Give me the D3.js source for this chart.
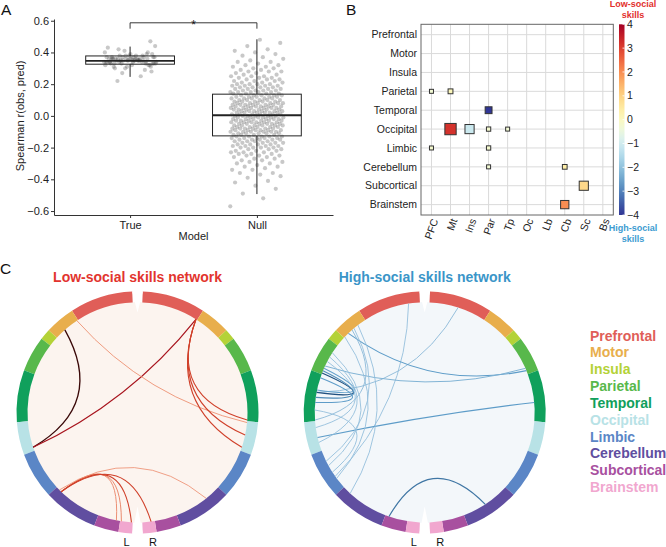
<!DOCTYPE html>
<html><head><meta charset="utf-8">
<script src="https://cdn.jsdelivr.net/npm/d3@7"></script>
<style>
body{margin:0;background:#fff;}
svg{display:block;font-family:"Liberation Sans",Arial,Helvetica,sans-serif;}
</style></head><body>
<svg id="chart" width="666" height="547"></svg>
<script>
// ================= DATA =================
// Panel A
const modelCategories = ["True", "Null"];
const trueValues = [0.35,0.33,0.37,0.36,0.34,0.38,0.32,0.35,0.36,0.31,0.39,0.34,0.35,0.37,0.33,0.36,0.30,0.40,0.35,0.34,0.36,0.38,0.33,0.35,0.37,0.29,0.41,0.34,0.36,0.35,0.32,0.38,0.36,0.34,0.33,0.37,0.35,0.31,0.39,0.36,0.34,0.35,0.42,0.28,0.36,0.33,0.37,0.35,0.34,0.38,0.36,0.32,0.35,0.43,0.25,0.35,0.37,0.34,0.36,0.33,0.30,0.40,0.35,0.22,0.47,0.36,0.34,0.38,0.27,0.44,0.35,0.33,0.36,0.31,0.37,0.35,0.34,0.39,0.32,0.36];
const nullValues = [-0.57,-0.52,-0.49,-0.46,-0.44,-0.42,-0.41,-0.39,-0.38,-0.37,-0.36,-0.36,
-0.34,-0.34,-0.33,-0.32,-0.32,-0.31,-0.30,
-0.30,-0.29,-0.29,-0.28,-0.28,-0.27,-0.27,-0.26,-0.26,-0.25,-0.25,
-0.25,-0.24,-0.24,-0.24,-0.23,-0.23,-0.23,-0.22,-0.22,-0.22,-0.21,-0.21,-0.21,-0.20,-0.20,
-0.20,-0.20,-0.19,-0.19,-0.19,-0.19,-0.18,-0.18,-0.18,-0.18,-0.17,-0.17,-0.17,-0.17,-0.16,-0.16,-0.16,-0.16,-0.15,-0.15,
-0.15,-0.15,-0.15,-0.14,-0.14,-0.14,-0.14,-0.14,-0.13,-0.13,-0.13,-0.13,-0.13,-0.12,-0.12,-0.12,-0.12,-0.11,-0.11,-0.11,-0.11,-0.11,-0.10,-0.10,
-0.10,-0.10,-0.10,-0.10,-0.09,-0.09,-0.09,-0.09,-0.09,-0.09,-0.08,-0.08,-0.08,-0.08,-0.08,-0.08,-0.07,-0.07,-0.07,-0.07,-0.07,-0.06,-0.06,-0.06,-0.06,-0.06,-0.06,-0.05,-0.05,
-0.05,-0.05,-0.05,-0.05,-0.04,-0.04,-0.04,-0.04,-0.04,-0.04,-0.03,-0.03,-0.03,-0.03,-0.03,-0.03,-0.02,-0.02,-0.02,-0.02,-0.02,-0.02,-0.01,-0.01,-0.01,-0.01,-0.01,-0.01,0.00,0.00,
0.00,0.00,0.00,0.00,0.01,0.01,0.01,0.01,0.01,0.01,0.02,0.02,0.02,0.02,0.02,0.02,0.03,0.03,0.03,0.03,0.03,0.03,0.04,0.04,0.04,0.04,0.04,0.04,0.05,0.05,
0.05,0.05,0.05,0.05,0.06,0.06,0.06,0.06,0.06,0.06,0.07,0.07,0.07,0.07,0.07,0.07,0.08,0.08,0.08,0.08,0.08,0.08,0.09,0.09,0.09,0.09,0.09,0.10,0.10,
0.10,0.10,0.10,0.11,0.11,0.11,0.11,0.11,0.12,0.12,0.12,0.12,0.12,0.13,0.13,0.13,0.13,0.13,0.14,0.14,0.14,0.14,0.15,0.15,0.15,
0.15,0.15,0.16,0.16,0.16,0.16,0.17,0.17,0.17,0.17,0.18,0.18,0.18,0.18,0.19,0.19,0.19,0.19,0.20,0.20,0.20,
0.20,0.21,0.21,0.21,0.22,0.22,0.22,0.23,0.23,0.23,0.24,0.24,0.24,0.25,0.25,0.25,
0.26,0.26,0.27,0.27,0.28,0.28,0.28,0.29,0.29,0.30,0.30,
0.31,0.31,0.32,0.32,0.33,0.34,0.34,0.35,
0.36,0.37,0.38,0.39,0.40,0.41,0.42,0.44,0.46,0.48];
// box stats: [lowWhisker, q1, median, q3, highWhisker]
const trueBoxStats = [0.246, 0.326, 0.347, 0.378, 0.437];
const nullBoxStats = [-0.493, -0.126, 0.004, 0.137, 0.483];
const yTicksA = [-0.6, -0.4, -0.2, 0.0, 0.2, 0.4, 0.6];

// Panel B
const regionRows = ["Prefrontal","Motor","Insula","Parietal","Temporal","Occipital","Limbic","Cerebellum","Subcortical","Brainstem"];
const regionCols = ["PFC","Mt","Ins","Par","Tp","Oc","Lb","Cb","Sc","Bs"];
const cellRow    = ["Parietal","Parietal","Temporal","Occipital","Occipital","Occipital","Occipital","Limbic","Limbic","Cerebellum","Cerebellum","Subcortical","Brainstem"];
const cellCol    = ["PFC","Mt","Par","Mt","Ins","Par","Tp","PFC","Par","Par","Cb","Sc","Cb"];
const cellValue  = [-0.3,0.1,-4.0,3.2,-1.1,-0.2,-0.3,-0.2,-0.2,-0.3,0.4,0.9,2.0];
const cellWeight = [1.0,1.6,3.0,6.1,4.6,1.2,1.0,1.0,1.2,1.0,1.5,4.6,4.0];
const colorbarTicks = [-4,-3,-2,-1,0,1,2,3,4];

// Panel C
const hemiRegions = ["Prefrontal","Motor","Insula","Parietal","Temporal","Occipital","Limbic","Cerebellum","Subcortical","Brainstem"];
const regionColors = ["#e05e58","#e8ae4c","#b4d237","#58b84b","#10a05c","#b8e2e6","#5b86c6","#604ea0","#a8509f","#f1a7cf"];
const nodesPerRegion = [23,11,4,13,19,12,17,20,9,5];
// edges: [hemiA, regionA, nodeA, hemiB, regionB, nodeB, strength]
const lowEdges = [
  ["L","Motor",6,"L","Occipital",10,1.0],
  ["L","Occipital",10,"R","Prefrontal",22,0.8],
  ["L","Motor",0,"R","Occipital",0,0.12],
  ["R","Prefrontal",22,"R","Temporal",18,0.55],
  ["R","Prefrontal",22,"R","Occipital",5,0.55],
  ["R","Prefrontal",22,"R","Occipital",10,0.55],
  ["L","Cerebellum",2,"L","Subcortical",7,0.18],
  ["L","Cerebellum",2,"L","Brainstem",0,0.2],
  ["L","Cerebellum",2,"L","Brainstem",4,0.55],
  ["L","Cerebellum",2,"R","Brainstem",1,0.55],
  ["L","Cerebellum",1,"R","Cerebellum",6,0.1]
];
const highEdges = [
  ["L","Prefrontal",4,"L","Limbic",11,0.15],
  ["R","Prefrontal",11,"L","Temporal",7,0.2],
  ["L","Motor",8,"R","Parietal",11,0.5],
  ["L","Parietal",9,"R","Parietal",10,0.3],
  ["L","Occipital",6,"R","Temporal",11,0.5],
  ["L","Parietal",12,"L","Temporal",7,1.0],
  ["L","Parietal",11,"L","Temporal",9,0.6],
  ["L","Temporal",1,"L","Temporal",11,0.5],
  ["L","Parietal",10,"L","Temporal",6,0.45],
  ["L","Parietal",5,"L","Occipital",8,0.15],
  ["L","Parietal",3,"L","Limbic",6,0.15],
  ["L","Motor",10,"L","Limbic",12,0.15],
  ["L","Parietal",7,"L","Occipital",2,0.15],
  ["L","Motor",5,"L","Limbic",4,0.15],
  ["L","Temporal",18,"L","Motor",6,0.2],
  ["L","Subcortical",1,"R","Cerebellum",10,0.75],
  ["L","Temporal",14,"L","Limbic",9,0.15],
  ["L","Motor",3,"L","Cerebellum",3,0.15]
];
const legendLabels = hemiRegions;

// ================= DRAW =================
const svg = d3.select("#chart");
const txt = (g, x, y, s, size, opts = {}) => {
  const t = g.append("text").attr("x", x).attr("y", y).text(s).attr("font-size", size);
  Object.entries(opts).forEach(([k, v]) => t.attr(k, v));
  return t;
};

// Panel labels
txt(svg, 1, 15, "A", 15.5, {fill: "#111"});
txt(svg, 346, 15, "B", 15.5, {fill: "#111"});
txt(svg, 0, 274, "C", 15.5, {fill: "#111"});

// ---------- Panel A ----------
const gA = svg.append("g");
const xA = d3.scaleLinear().domain([0.4, 2.6]).range([54, 333]);
const yA = d3.scaleLinear().domain([-0.625, 0.611]).range([215, 19]);
const catPos = {True: 1, Null: 2};
const golden = 0.6180339887;
const jit = (i) => (((i * golden) % 1) - 0.5) * 0.42;

const pts = [];
trueValues.forEach((v, i) => pts.push({u: catPos.True + jit(i + 7), v}));
nullValues.forEach((v, i) => pts.push({u: catPos.Null + jit(i), v}));
gA.append("g").selectAll("circle").data(pts).join("circle")
  .attr("cx", d => xA(d.u)).attr("cy", d => yA(d.v)).attr("r", 2.1)
  .attr("fill", "#4a4a4a").attr("fill-opacity", 0.3);

function drawBox(u, s) {
  const hw = 0.35;
  const g = gA.append("g").attr("stroke", "#222").attr("fill", "none");
  g.append("line").attr("x1", xA(u)).attr("x2", xA(u)).attr("y1", yA(s[4])).attr("y2", yA(s[3])).attr("stroke-width", 1);
  g.append("line").attr("x1", xA(u)).attr("x2", xA(u)).attr("y1", yA(s[1])).attr("y2", yA(s[0])).attr("stroke-width", 1);
  g.append("rect").attr("x", xA(u - hw)).attr("width", xA(u + hw) - xA(u - hw))
    .attr("y", yA(s[3])).attr("height", yA(s[1]) - yA(s[3])).attr("stroke-width", 1);
  g.append("line").attr("x1", xA(u - hw)).attr("x2", xA(u + hw)).attr("y1", yA(s[2])).attr("y2", yA(s[2])).attr("stroke-width", 1.8);
}
drawBox(catPos.True, trueBoxStats);
drawBox(catPos.Null, nullBoxStats);

const axL = gA.append("g").attr("transform", "translate(54,0)")
  .call(d3.axisLeft(yA).tickValues(yTicksA).tickSize(3).tickSizeOuter(0).tickFormat(d3.format(".1f")));
const axB = gA.append("g").attr("transform", "translate(0,215)")
  .call(d3.axisBottom(xA).tickValues([1, 2]).tickSize(3).tickSizeOuter(0).tickFormat(d => modelCategories[d - 1]));
[axL, axB].forEach(a => {
  a.select(".domain").attr("stroke", "#333");
  a.selectAll(".tick line").attr("stroke", "#333");
  a.selectAll("text").attr("font-size", 11).attr("fill", "#222").attr("font-family", '"Liberation Sans", Arial, sans-serif');
});
axL.selectAll("text").attr("x", -5);
axB.selectAll("text").attr("y", 6);
// axis titles
txt(gA, 193.5, 240, "Model", 11, {"text-anchor": "middle", fill: "#222"});
txt(gA, 0, 0, "Spearman r(obs, pred)", 11, {"text-anchor": "middle", fill: "#222",
  transform: `translate(23.5,${yA(0)}) rotate(-90)`});
// significance bracket
gA.append("path").attr("fill", "none").attr("stroke", "#222").attr("stroke-width", 0.9)
  .attr("d", `M${xA(1)},${yA(0.55)}V${yA(0.587)}H${xA(2)}V${yA(0.55)}`);
txt(gA, (xA(1) + xA(2)) / 2, 28.5, "*", 12, {"text-anchor": "middle", fill: "#111"});

// ---------- Panel B ----------
const gB = svg.append("g");
const xB = d3.scalePoint().domain(regionCols).range([421, 613.3]).padding(0.55);
const yB = d3.scalePoint().domain(regionRows).range([24.3, 215]).padding(0.55);
const colorB = d3.scaleSequential(t => d3.interpolateRdYlBu(1 - t)).domain([-4, 4]);
const sizeB = d3.scaleLinear().domain([1, 6.1]).range([4, 11.3]);

gB.append("g").selectAll("line.v").data(regionCols).join("line")
  .attr("x1", d => xB(d)).attr("x2", d => xB(d)).attr("y1", 24.3).attr("y2", 215)
  .attr("stroke", "#dadada").attr("stroke-width", 1);
gB.append("g").selectAll("line.h").data(regionRows).join("line")
  .attr("y1", d => yB(d)).attr("y2", d => yB(d)).attr("x1", 421).attr("x2", 613.3)
  .attr("stroke", "#dadada").attr("stroke-width", 1);
gB.append("rect").attr("x", 421).attr("y", 24.3).attr("width", 192.3).attr("height", 190.7)
  .attr("fill", "none").attr("stroke", "#666").attr("stroke-width", 1);

const cells = cellRow.map((r, i) => ({r, c: cellCol[i], v: cellValue[i], w: cellWeight[i]}));
gB.append("g").selectAll("rect").data(cells).join("rect")
  .attr("x", d => xB(d.c) - sizeB(d.w) / 2).attr("y", d => yB(d.r) - sizeB(d.w) / 2)
  .attr("width", d => sizeB(d.w)).attr("height", d => sizeB(d.w))
  .attr("fill", d => colorB(d.v)).attr("stroke", "#333").attr("stroke-width", 1);

gB.append("g").selectAll("text").data(regionRows).join("text")
  .attr("x", 417).attr("y", d => yB(d)).attr("dy", "0.35em").attr("text-anchor", "end")
  .attr("font-size", 10.5).attr("fill", "#222").text(d => d);
gB.append("g").selectAll("text").data(regionCols).join("text")
  .attr("transform", d => `translate(${xB(d) + 3.5},${219}) rotate(-70)`)
  .attr("text-anchor", "end").attr("dy", "0.35em")
  .attr("font-size", 10.5).attr("fill", "#222").text(d => d);

// colorbar
const defs = svg.append("defs");
const grad = defs.append("linearGradient").attr("id", "cbar").attr("x1", 0).attr("x2", 0).attr("y1", 1).attr("y2", 0);
d3.range(0, 1.0001, 0.05).forEach(t => grad.append("stop").attr("offset", t).attr("stop-color", colorB(-4 + 8 * t)));
const yC = d3.scaleLinear().domain([-4, 4]).range([215, 24.3]);
gB.append("rect").attr("x", 619).attr("y", 24.3).attr("width", 5.5).attr("height", 190.7).attr("fill", "url(#cbar)");
gB.append("g").selectAll("line").data(colorbarTicks).join("line")
  .attr("x1", 622.5).attr("x2", 624.5).attr("y1", d => yC(d)).attr("y2", d => yC(d)).attr("stroke", "#fff").attr("stroke-width", 0.8);
gB.append("g").selectAll("text").data(colorbarTicks).join("text")
  .attr("x", 627).attr("y", d => yC(d)).attr("dy", "0.35em").attr("font-size", 10.5).attr("fill", "#222")
  .text(d => d3.format("d")(d));
const lowCol = "#e2302c", highCol = "#3c9bd1";
txt(gB, 633, 7, "Low-social", 9, {"text-anchor": "middle", fill: lowCol, "font-weight": "bold"});
txt(gB, 633, 17.5, "skills", 9, {"text-anchor": "middle", fill: lowCol, "font-weight": "bold"});
txt(gB, 633, 231, "High-social", 9, {"text-anchor": "middle", fill: highCol, "font-weight": "bold"});
txt(gB, 633, 242, "skills", 9, {"text-anchor": "middle", fill: highCol, "font-weight": "bold"});

// ---------- Panel C ----------
const totalNodes = d3.sum(nodesPerRegion);
const cumStart = {};
let acc = 0;
hemiRegions.forEach((r, i) => { cumStart[r] = acc; acc += nodesPerRegion[i]; });
const nodeAngle = d3.scaleLinear().domain([0, totalNodes]).range([2.5, 177.5]);
const rOut = 121, rIn = 110, kCtrl = 0.35;
const deg = Math.PI / 180;
const angleOf = (hemi, region, idx) => (hemi === "L" ? -1 : 1) * nodeAngle(cumStart[region] + idx + 0.5);

function drawCircle(cx, cy, title, titleColor, bg, edges, colorScale, widthScale) {
  const g = svg.append("g").attr("transform", `translate(${cx},${cy})`);
  txt(g, 0, -130.5, title, 14, {"text-anchor": "middle", fill: titleColor, "font-weight": "bold"});
  g.append("circle").attr("r", rIn + 0.5).attr("fill", bg);
  // ring
  const arc = d3.arc().innerRadius(rIn).outerRadius(rOut);
  const segs = [];
  hemiRegions.forEach((r, i) => {
    const a0 = nodeAngle(cumStart[r]), a1 = nodeAngle(cumStart[r] + nodesPerRegion[i]);
    segs.push({s: a0, e: a1, c: regionColors[i]});
    segs.push({s: -a1, e: -a0, c: regionColors[i]});
  });
  g.append("g").selectAll("path").data(segs).join("path")
    .attr("d", d => arc({startAngle: d.s * deg, endAngle: d.e * deg}))
    .attr("fill", d => d.c);
  // white spikes at the midline gaps
  g.append("path").attr("fill", "#fff").attr("d", `M-5.3,-${rOut}L5.3,-${rOut}L0,-${rIn - 10}Z`);
  g.append("path").attr("fill", "#fff").attr("d", `M-5.3,${rOut}L5.3,${rOut}L0,${rIn - 16}Z`);
  // chords
  const pt = a => [rIn * Math.sin(a * deg), -rIn * Math.cos(a * deg)];
  g.append("g").selectAll("path").data(edges).join("path")
    .attr("fill", "none")
    .attr("stroke", d => colorScale(d[6]))
    .attr("stroke-width", d => widthScale(d[6]))
    .attr("d", d => {
      const p1 = pt(angleOf(d[0], d[1], d[2])), p2 = pt(angleOf(d[3], d[4], d[5]));
      const c = [kCtrl * (p1[0] + p2[0]) / 2, kCtrl * (p1[1] + p2[1]) / 2];
      return `M${p1[0]},${p1[1]}Q${c[0]},${c[1]} ${p2[0]},${p2[1]}`;
    });
  txt(g, -11, 133.5, "L", 11, {"text-anchor": "middle", fill: "#111"});
  txt(g, 15.5, 133.5, "R", 11, {"text-anchor": "middle", fill: "#111"});
}
const lowColor = d3.scaleLinear().domain([0, 0.5, 0.8, 1]).range(["#f2a283", "#d8492c", "#a8141e", "#3a0808"]);
const highColor = d3.scaleLinear().domain([0, 0.5, 1]).range(["#a9cde3", "#5d9cc8", "#20507f"]);
const wScale = d3.scaleLinear().domain([0, 1]).range([0.8, 1.3]);
drawCircle(137.5, 412.5, "Low-social skills network", "#e2342e", "#fcf4ef", lowEdges, lowColor, wScale);
drawCircle(424.7, 412.5, "High-social skills network", "#3a95c8", "#f3f7fa", highEdges, highColor, wScale);

// legend
svg.append("g").selectAll("text").data(legendLabels).join("text")
  .attr("x", 590).attr("y", (d, i) => 340.5 + i * 16.85)
  .attr("font-size", 14).attr("font-weight", "bold")
  .attr("fill", (d, i) => regionColors[i]).text(d => d);
</script>
</body></html>
